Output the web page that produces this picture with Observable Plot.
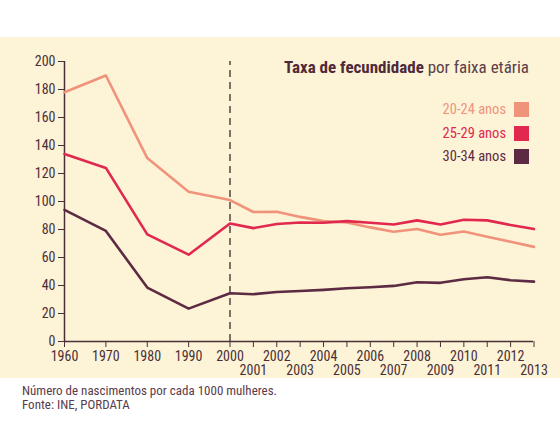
<!DOCTYPE html>
<html><head><meta charset="utf-8">
<script src="https://cdn.jsdelivr.net/npm/d3@7"></script>
<script src="https://cdn.jsdelivr.net/npm/@observablehq/plot@0.6"></script>
<style>
body{margin:0;background:#fff;font-family:"Roboto Condensed",Roboto,sans-serif;}
#wrap{position:relative;width:560px;height:425px;}
#panel{position:absolute;top:37px;left:0;width:560px;height:341px;background:#fdf3d7;}
#title{position:absolute;top:57px;right:31px;font-size:17px;color:#4e2a38;white-space:nowrap;}
#title b{font-weight:bold;}
#title span{font-weight:normal;color:#5a4048;}
.leg{position:absolute;right:31px;font-size:14.5px;display:flex;align-items:center;gap:8px;white-space:nowrap;}
.leg i{display:inline-block;width:15px;height:15px;}
#cap{position:absolute;top:384px;left:22px;font-size:13px;line-height:14px;color:#5b3b4c;}
</style></head>
<body><div id="wrap"><div id="panel"></div><div id="chart" style="position:absolute;top:37px;left:0"></div>
<div id="title"><b>Taxa de fecundidade</b> <span>por faixa etária</span></div>
<div id="legend"></div>
<div id="cap">Número de nascimentos por cada 1000 mulheres.<br>Fonte: INE, PORDATA</div>
</div>
<script>
const years = [1960,1970,1980,1990,2000,2001,2002,2003,2004,2005,2006,2007,2008,2009,2010,2011,2012,2013];
const series = ["20-24 anos","25-29 anos","30-34 anos"];
const colors = ["#f0937b","#e1284f","#5c2a42"];
const v2024 = [178,190,131,107,101,92.5,92.7,89,86,85,81.5,78.4,80.3,76.2,78.6,74.8,71.2,67.6];
const v2529 = [134,124,76.5,62,84.3,81,83.9,85,84.8,86,84.8,83.6,86.5,83.6,87,86.5,83.2,80.3];
const v3034 = [94,79,38.5,23.5,34.5,33.8,35.4,36.1,36.9,38,38.8,39.7,42.3,41.9,44.5,45.9,43.8,42.8];
const yTicks = [0,20,40,60,80,100,120,140,160,180,200];
const xRow1 = [1960,1970,1980,1990,2000,2002,2004,2006,2008,2010,2012];
const xRow2 = [2001,2003,2005,2007,2009,2011,2013];
const marker = 2000;

const values = [v2024, v2529, v3034];
const data = series.flatMap((s, i) => years.map((yr, j) => ({series: s, year: yr, value: values[i][j]})));
const ink = "#4a3036";
const fmt = d => String(d);

const chart = Plot.plot({
  width: 560, height: 341,
  marginTop: 24, marginBottom: 37, marginLeft: 64, marginRight: 27,
  style: {background: "transparent", fontFamily: '"Roboto Condensed",Roboto,sans-serif', fontSize: "14px", color: ink},
  x: {type: "linear", domain: [1960, 2000, 2013], range: [64, 229.5, 533.5]},
  y: {domain: [0, 200]},
  color: {domain: series, range: colors},
  marks: [
    Plot.axisY({ticks: yTicks, tickSize: 6, tickPadding: 3, label: null, stroke: ink, fill: ink, tickFormat: fmt}),
    Plot.axisX({ticks: xRow1, tickSize: 6, tickPadding: 4, label: null, stroke: ink, fill: ink, tickFormat: fmt}),
    Plot.axisX({ticks: xRow2, tickSize: 6, tickPadding: 18, label: null, stroke: ink, fill: ink, tickFormat: fmt}),
    Plot.ruleX([1960], {stroke: ink, strokeWidth: 1.5}),
    Plot.ruleY([0], {stroke: ink, strokeWidth: 1.5}),
    Plot.ruleX([marker], {y1: 0, y2: 200, stroke: "#3a2a2a", strokeWidth: 1.3, strokeDasharray: "7,5"}),
    Plot.line(data, {x: "year", y: "value", z: "series", stroke: "series", strokeWidth: 2.6})
  ]
});
document.getElementById("chart").appendChild(chart);

const leg = document.getElementById("legend");
const tops = [101, 125, 148];
series.forEach((s, i) => {
  const d = document.createElement("div");
  d.className = "leg";
  d.style.top = tops[i] + "px";
  d.style.color = colors[i];
  d.innerHTML = `<span>${s}</span><i style="background:${colors[i]}"></i>`;
  leg.appendChild(d);
});
</script></body></html>
